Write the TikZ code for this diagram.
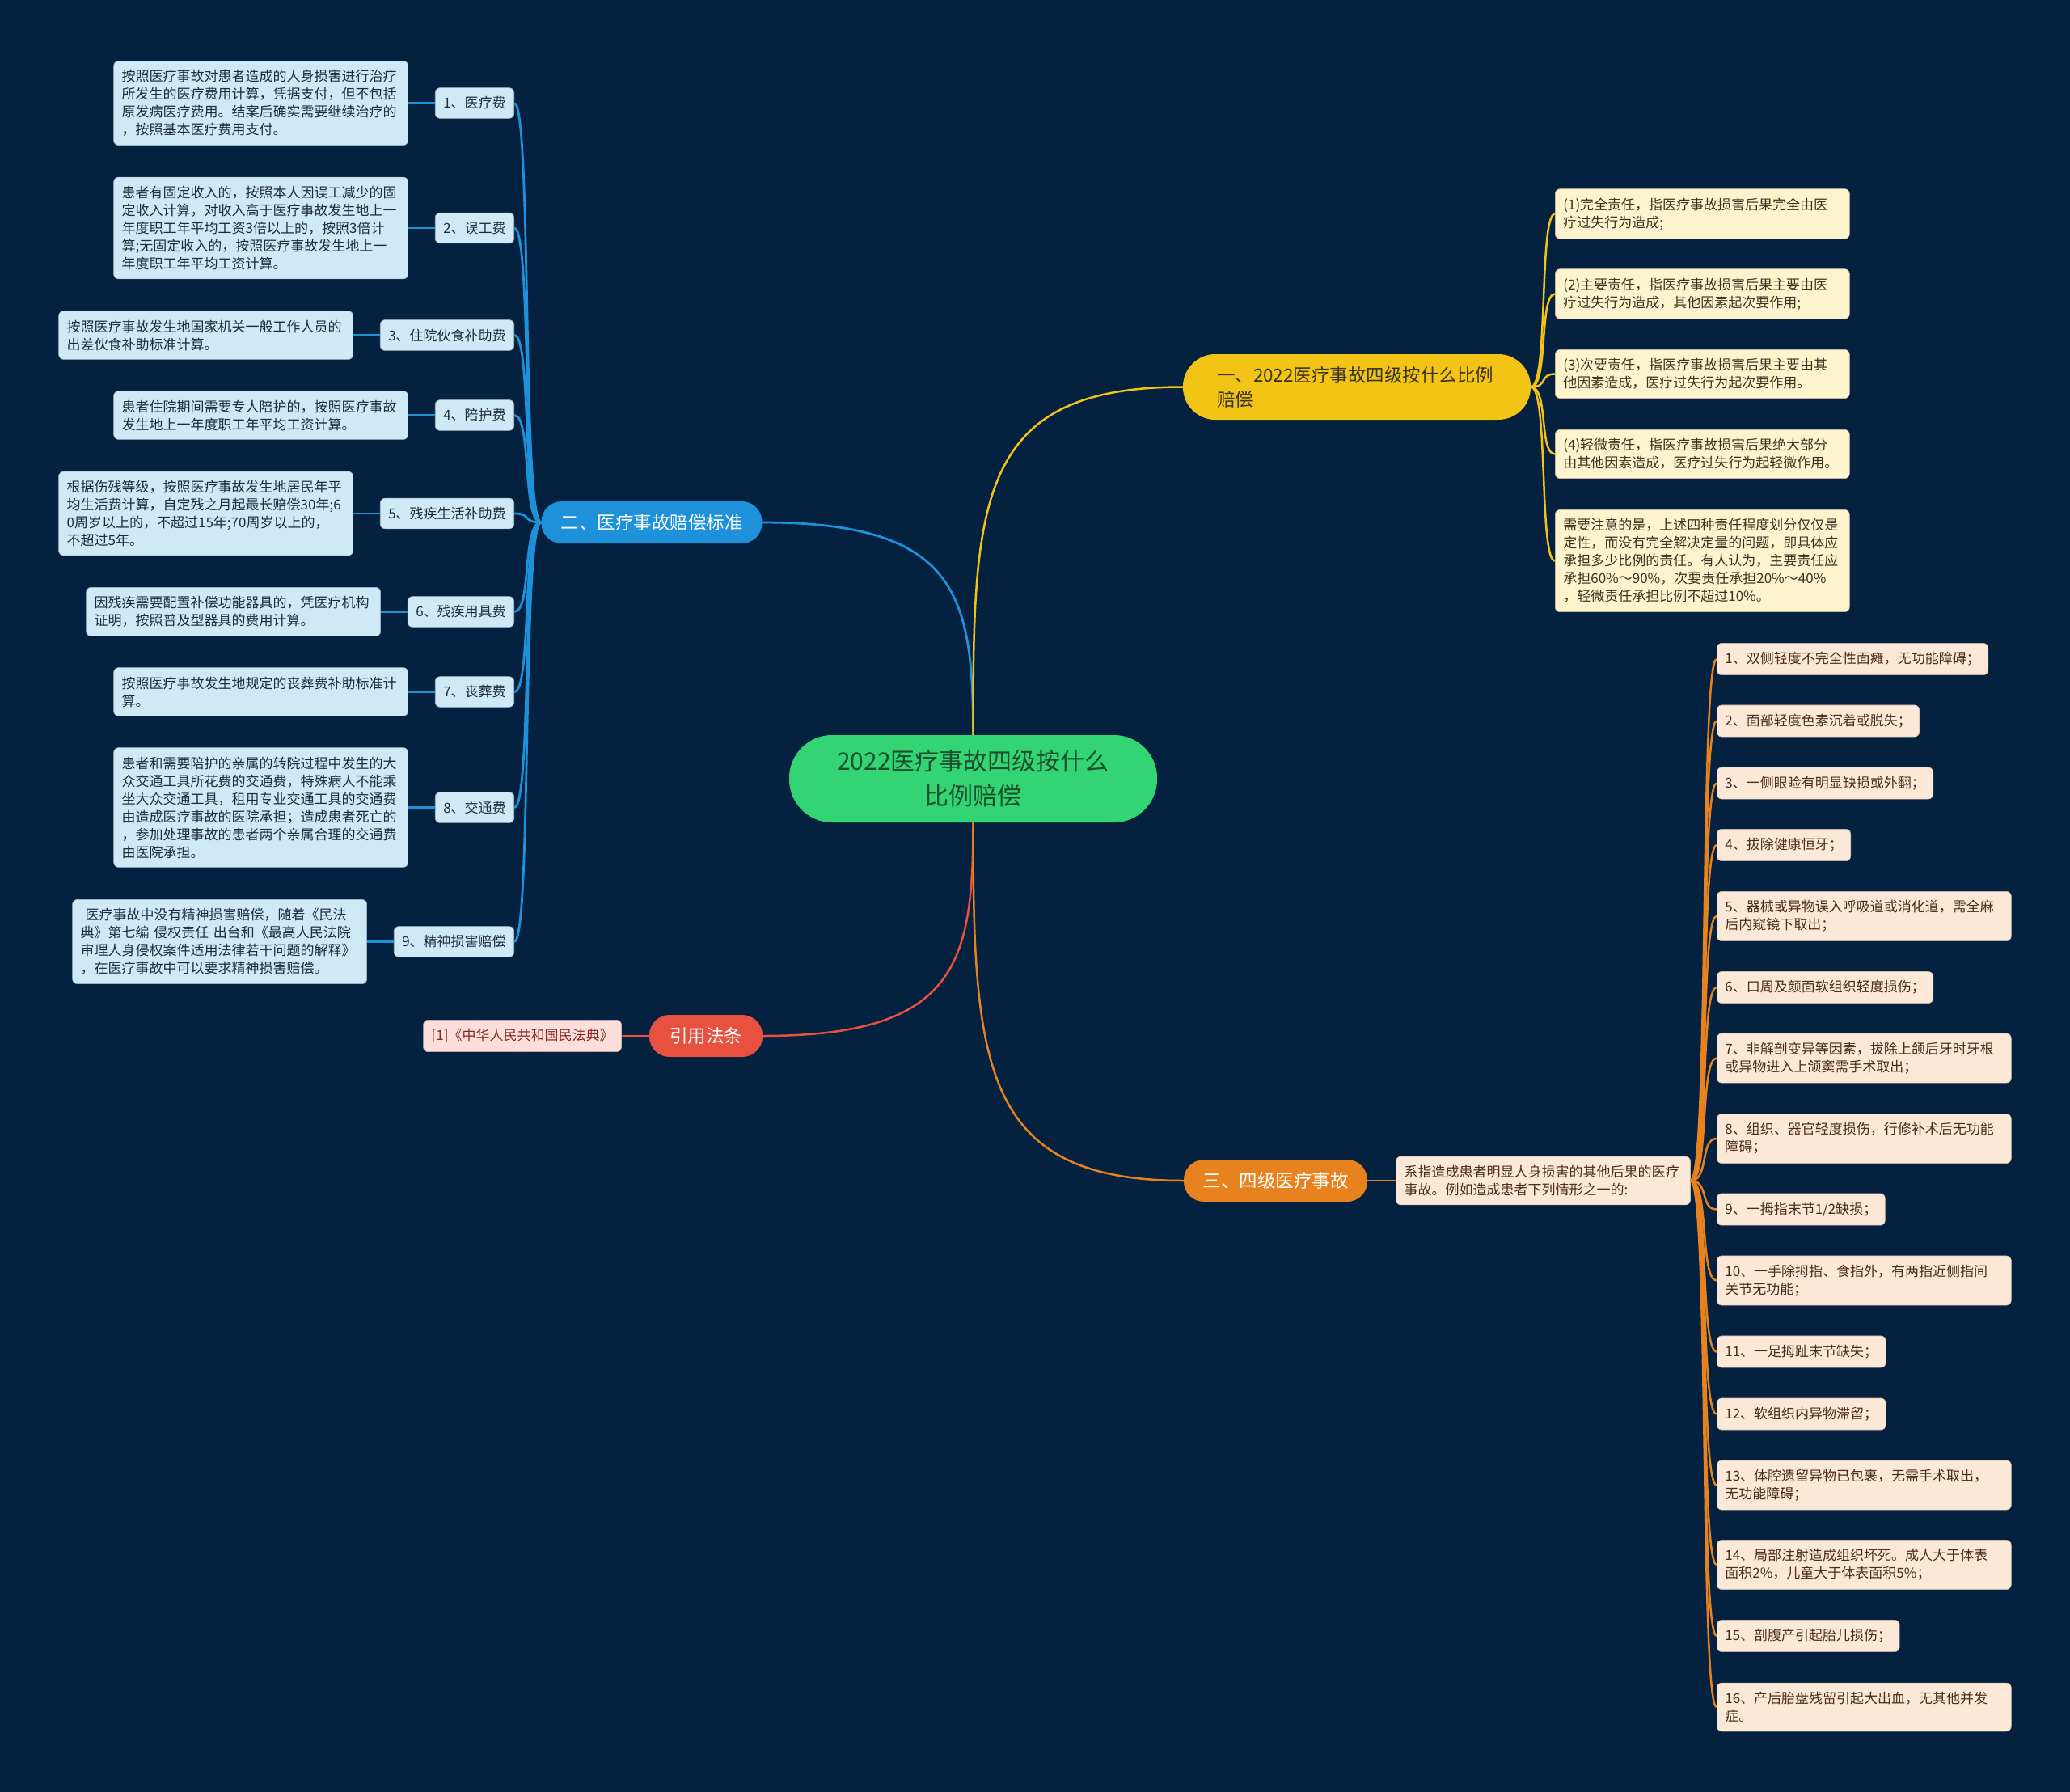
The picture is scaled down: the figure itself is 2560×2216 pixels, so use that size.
\documentclass[tikz,border=0pt]{standalone}
\usepackage{fontspec}
\setmainfont{Noto Sans CJK SC}
\usetikzlibrary{positioning}

\definecolor{bgcol}{HTML}{04213F}
\definecolor{rootfill}{HTML}{33D474}
\definecolor{roottext}{HTML}{1B4F2E}
\definecolor{bluemain}{HTML}{1D91D9}
\definecolor{blueleaf}{HTML}{CFE9F7}
\definecolor{bluetext}{HTML}{1E2D3B}
\definecolor{yellowmain}{HTML}{F1C415}
\definecolor{yellowleaf}{HTML}{FDF3CD}
\definecolor{yellowtext}{HTML}{3B3321}
\definecolor{orangemain}{HTML}{E8821F}
\definecolor{orangeleaf}{HTML}{FCE8D6}
\definecolor{orangetext}{HTML}{4B2E18}
\definecolor{redmain}{HTML}{E8513F}
\definecolor{redleaf}{HTML}{FCDFDB}
\definecolor{redtext}{HTML}{842820}

\tikzset{
  rootnode/.style={rectangle, rounded corners=53pt, fill=rootfill, text=roottext,
    minimum width=455pt, minimum height=108pt, align=center,
    font=\fontsize{30}{43}\selectfont},
  mainnode/.style={rectangle, rounded corners=25pt, minimum height=52pt,
    inner xsep=0pt, font=\fontsize{22.5}{30}\selectfont},
  leaf/.style={rectangle, rounded corners=6pt, inner xsep=10pt, inner ysep=11pt,
    align=left, font=\fontsize{17}{22}\selectfont},
  wide/.style={text width=344pt},
  bleaf/.style={leaf, fill=blueleaf, draw=blueleaf!80!black, line width=0.6pt, text=bluetext},
  yleaf/.style={leaf, wide, fill=yellowleaf, draw=yellowleaf!80!black, line width=0.6pt, text=yellowtext},
  oleaf/.style={leaf, fill=orangeleaf, draw=orangeleaf!80!black, line width=0.6pt, text=orangetext},
  rleaf/.style={leaf, fill=redleaf, draw=redleaf!80!black, line width=0.6pt, text=redtext},
  blueline/.style={draw=bluemain, line width=2.8pt},
  yellowline/.style={draw=yellowmain, line width=2.5pt},
  orangeline/.style={draw=orangemain, line width=2.5pt},
  redline/.style={draw=redmain, line width=2.5pt}
}

\begin{document}
\begin{tikzpicture}[x=1pt,y=-1pt]
    % background
    \fill[bgcol] (0,0) rectangle (2560,2216);
    \useasboundingbox (0,0) rectangle (2560,2216);

    % draw centre and main topics
    \node[rootnode] (root) at (1203.5,963) {2022医疗事故四级按什么\\比例赔偿};
    \node[mainnode, fill=yellowmain, text=yellowtext, minimum width=430pt, minimum height=81pt,
      rounded corners=40pt, text width=346pt, align=left] (b1) at (1678,478.5)
      {一、2022医疗事故四级按什么比例\\赔偿};
    \node[mainnode, fill=bluemain, text=white, minimum width=273pt] (b2) at (806,646)
      {二、医疗事故赔偿标准};
    \node[mainnode, fill=redmain, text=white, minimum width=140pt] (cite) at (873,1281)
      {引用法条};
    \node[mainnode, fill=orangemain, text=white, minimum width=227pt] (b3) at (1577.5,1460)
      {三、四级医疗事故};

    % draw yellow leaves
    \node[yleaf, anchor=west] (y1) at (1923,264.5)
      {(1)完全责任，指医疗事故损害后果完全由医\\疗过失行为造成;};
    \node[yleaf, anchor=west] (y2) at (1923,363.5)
      {(2)主要责任，指医疗事故损害后果主要由医\\疗过失行为造成，其他因素起次要作用;};
    \node[yleaf, anchor=west] (y3) at (1923,462.5)
      {(3)次要责任，指医疗事故损害后果主要由其\\他因素造成，医疗过失行为起次要作用。};
    \node[yleaf, anchor=west] (y4) at (1923,561.5)
      {(4)轻微责任，指医疗事故损害后果绝大部分\\由其他因素造成，医疗过失行为起轻微作用。};
    \node[yleaf, anchor=west] (y5) at (1923,693.5)
      {需要注意的是，上述四种责任程度划分仅仅是\\定性，而没有完全解决定量的问题，即具体应\\承担多少比例的责任。有人认为，主要责任应\\承担60\%～90\%，次要责任承担20\%～40\%\\，轻微责任承担比例不超过10\%。};

    % draw blue leaves
    \node[bleaf, anchor=east] (m1) at (636,127.5) {1、医疗费};
    \node[bleaf, wide, left=33pt of m1] (d1)
      {按照医疗事故对患者造成的人身损害进行治疗\\所发生的医疗费用计算，凭据支付，但不包括\\原发病医疗费用。结案后确实需要继续治疗的\\，按照基本医疗费用支付。};
    \node[bleaf, anchor=east] (m2) at (636,282) {2、误工费};
    \node[bleaf, wide, left=33pt of m2] (d2)
      {患者有固定收入的，按照本人因误工减少的固\\定收入计算，对收入高于医疗事故发生地上一\\年度职工年平均工资3倍以上的，按照3倍计\\算;无固定收入的，按照医疗事故发生地上一\\年度职工年平均工资计算。};
    \node[bleaf, anchor=east] (m3) at (636,414.5) {3、住院伙食补助费};
    \node[bleaf, wide, left=33pt of m3] (d3)
      {按照医疗事故发生地国家机关一般工作人员的\\出差伙食补助标准计算。};
    \node[bleaf, anchor=east] (m4) at (636,513.5) {4、陪护费};
    \node[bleaf, wide, left=33pt of m4] (d4)
      {患者住院期间需要专人陪护的，按照医疗事故\\发生地上一年度职工年平均工资计算。};
    \node[bleaf, anchor=east] (m5) at (636,635) {5、残疾生活补助费};
    \node[bleaf, wide, left=33pt of m5] (d5)
      {根据伤残等级，按照医疗事故发生地居民年平\\均生活费计算，自定残之月起最长赔偿30年;6\\0周岁以上的，不超过15年;70周岁以上的，\\不超过5年。};
    \node[bleaf, anchor=east] (m6) at (636,756.5) {6、残疾用具费};
    \node[bleaf, wide, left=33pt of m6] (d6)
      {因残疾需要配置补偿功能器具的，凭医疗机构\\证明，按照普及型器具的费用计算。};
    \node[bleaf, anchor=east] (m7) at (636,855.5) {7、丧葬费};
    \node[bleaf, wide, left=33pt of m7] (d7)
      {按照医疗事故发生地规定的丧葬费补助标准计\\算。};
    \node[bleaf, anchor=east] (m8) at (636,998.5) {8、交通费};
    \node[bleaf, wide, left=33pt of m8] (d8)
      {患者和需要陪护的亲属的转院过程中发生的大\\众交通工具所花费的交通费，特殊病人不能乘\\坐大众交通工具，租用专业交通工具的交通费\\由造成医疗事故的医院承担；造成患者死亡的\\，参加处理事故的患者两个亲属合理的交通费\\由医院承担。};
    \node[bleaf, anchor=east] (m9) at (636,1164.5) {9、精神损害赔偿};
    \node[bleaf, wide, left=33pt of m9] (d9)
      {\hspace*{6pt}医疗事故中没有精神损害赔偿，随着《民法\\典》第七编 侵权责任 出台和《最高人民法院\\审理人身侵权案件适用法律若干问题的解释》\\，在医疗事故中可以要求精神损害赔偿。};

    % draw red leaf
    \node[rleaf, left=34pt of cite] (law) {[1]《中华人民共和国民法典》};

    % draw orange leaves
    \node[oleaf, wide, right=35pt of b3] (od)
      {系指造成患者明显人身损害的其他后果的医疗\\事故。例如造成患者下列情形之一的:};
    \node[oleaf, anchor=west] (o1) at (2123,815) {1、双侧轻度不完全性面瘫，无功能障碍；};
    \node[oleaf, anchor=west] (o2) at (2123,891.5) {2、面部轻度色素沉着或脱失；};
    \node[oleaf, anchor=west] (o3) at (2123,968.5) {3、一侧眼睑有明显缺损或外翻；};
    \node[oleaf, anchor=west] (o4) at (2123,1045) {4、拔除健康恒牙；};
    \node[oleaf, wide, anchor=west] (o5) at (2123,1133)
      {5、器械或异物误入呼吸道或消化道，需全麻\\后内窥镜下取出；};
    \node[oleaf, anchor=west] (o6) at (2123,1221) {6、口周及颜面软组织轻度损伤；};
    \node[oleaf, wide, anchor=west] (o7) at (2123,1308.5)
      {7、非解剖变异等因素，拔除上颌后牙时牙根\\或异物进入上颌窦需手术取出；};
    \node[oleaf, wide, anchor=west] (o8) at (2123,1408)
      {8、组织、器官轻度损伤，行修补术后无功能\\障碍；};
    \node[oleaf, anchor=west] (o9) at (2123,1495.5) {9、一拇指末节1/2缺损；};
    \node[oleaf, wide, anchor=west] (o10) at (2123,1583.5)
      {10、一手除拇指、食指外，有两指近侧指间\\关节无功能；};
    \node[oleaf, anchor=west] (o11) at (2123,1671.5) {11、一足拇趾末节缺失；};
    \node[oleaf, anchor=west] (o12) at (2123,1748.5) {12、软组织内异物滞留；};
    \node[oleaf, wide, anchor=west] (o13) at (2123,1836.5)
      {13、体腔遗留异物已包裹，无需手术取出，\\无功能障碍；};
    \node[oleaf, wide, anchor=west] (o14) at (2123,1935)
      {14、局部注射造成组织坏死。成人大于体表\\面积2\%，儿童大于体表面积5\%；};
    \node[oleaf, anchor=west] (o15) at (2123,2023) {15、剖腹产引起胎儿损伤；};
    \node[oleaf, wide, anchor=west] (o16) at (2123,2111)
      {16、产后胎盘残留引起大出血，无其他并发\\症。};

    % draw connections from centre
    \draw[blueline] (root.north) .. controls +(0,-175) and +(240,0) .. (b2.east);
    \draw[yellowline] (root.north) .. controls +(0,-290) and +(-255,0) .. (b1.west);
    \draw[redline] (root.south) .. controls +(0,175) and +(240,0) .. (cite.east);
    \draw[orangeline] (root.south) .. controls +(0,300) and +(-250,0) .. (b3.west);

    % draw branch connections
    \foreach \i in {1,...,9} {
      \draw[blueline] (b2.west) .. controls +(-24,0) and +(22,0) .. (m\i.east);
      \draw[blueline] (d\i.east) -- (m\i.west);
    }
    \foreach \i in {1,...,5}
      \draw[yellowline] (b1.east) .. controls +(22,0) and +(-20,0) .. (y\i.west);
    \draw[redline] (cite.west) -- (law.east);
    \draw[orangeline] (b3.east) -- (od.west);
    \foreach \i in {1,...,16}
      \draw[orangeline] (od.east) .. controls +(23,0) and +(-21,0) .. (o\i.west);
\end{tikzpicture}
\end{document}
